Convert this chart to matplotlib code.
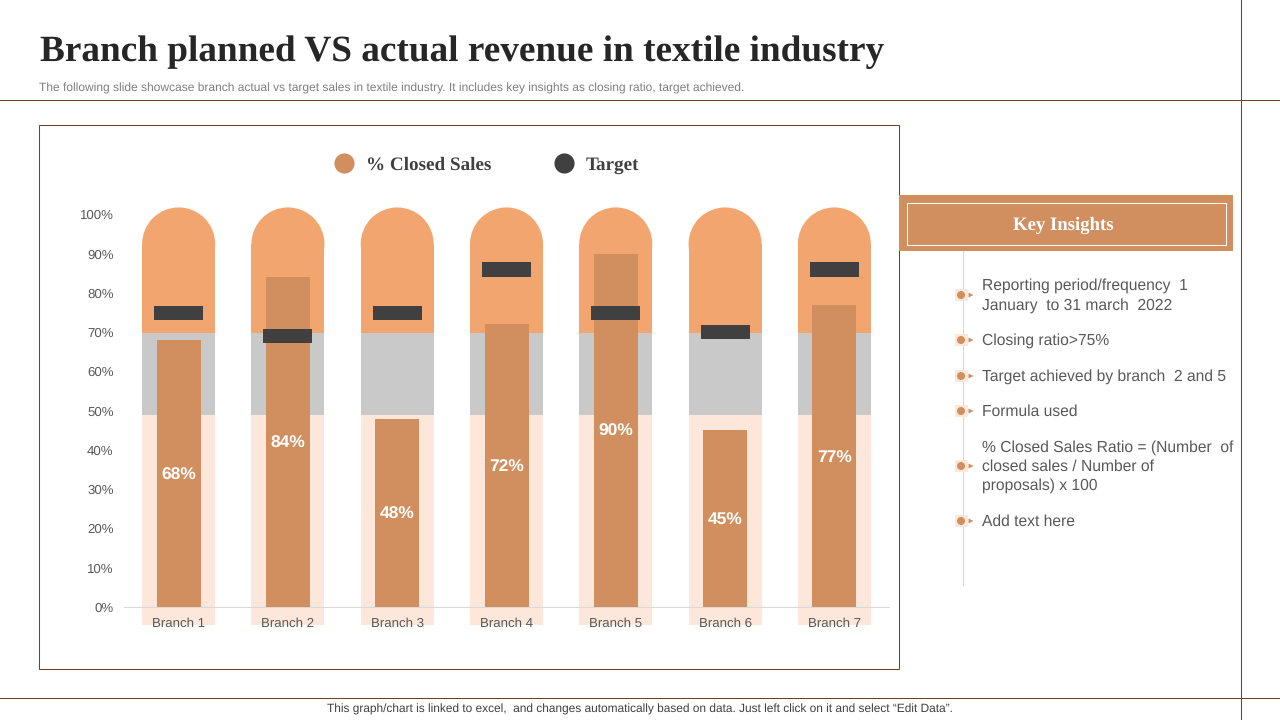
import matplotlib
matplotlib.use("Agg")
import matplotlib.pyplot as plt
from matplotlib.patches import Rectangle, Ellipse, Polygon
from matplotlib.lines import Line2D

plt.rcParams["text.hinting"] = "no_hinting"

branches = ["Branch 1", "Branch 2", "Branch 3", "Branch 4", "Branch 5", "Branch 6", "Branch 7"]
closed_sales = [68, 84, 48, 72, 90, 45, 77]
targets = [75, 69, 75, 86, 75, 70, 86]
band_low = 48.8
band_mid = 69.8
band_top = 101.8
band_floor = -4.6
y_ticks = list(range(0, 101, 10))
insights = [
    (295, "Reporting period/frequency  1\nJanuary  to 31 march  2022"),
    (340, "Closing ratio>75%"),
    (376, "Target achieved by branch  2 and 5"),
    (411, "Formula used"),
    (466, "% Closed Sales Ratio = (Number  of\nclosed sales / Number of\nproposals) x 100"),
    (521, "Add text here"),
]
title = "Branch planned VS actual revenue in textile industry"
subtitle = "The following slide showcase branch actual vs target sales in textile industry. It includes key insights as closing ratio, target achieved."
footer = "This graph/chart is linked to excel,  and changes automatically based on data. Just left click on it and select \u201cEdit Data\u201d."

C_BAR = "#D18F60"
C_TOP = "#F2A56F"
C_GREY = "#C9C9C9"
C_LOW = "#FCE7DA"
C_TARGET = "#404040"
C_RULE = "#6B4526"
SANS = "Liberation Sans"
SERIF = "Liberation Serif"
LW = 0.75

W, H = 1280, 720
fig = plt.figure(figsize=(W / 100, H / 100), dpi=100, facecolor="white")

# page layer in pixel coordinates
pg = fig.add_axes([0, 0, 1, 1], zorder=0)
pg.set_xlim(0, W)
pg.set_ylim(H, 0)
pg.axis("off")

pg.plot([0, W], [100, 100], color=C_RULE, lw=LW)
pg.plot([0, W], [698, 698], color=C_RULE, lw=LW)
pg.plot([1240.5, 1240.5], [0, H], color=C_RULE, lw=LW)
pg.add_patch(Rectangle((39, 125), 860, 544, fc="white", ec=C_RULE, lw=LW))

pg.text(39.5, 52.5, title, family=SERIF, weight="bold", fontsize=26.8, color="#262626", va="center", ha="left")
pg.text(39, 88.5, subtitle, family=SANS, fontsize=8.64, color="#7F7F7F", va="center", ha="left")
pg.text(639.5, 709.5, footer, family=SANS, fontsize=8.6, color="#404040", va="center", ha="center")

pg.add_patch(Rectangle((899, 195), 334, 56, fc=C_BAR, ec="none"))
pg.add_patch(Rectangle((907, 203), 319, 42, fc="none", ec="white", lw=LW))
pg.text(1063, 225.5, "Key Insights", family=SERIF, weight="bold", fontsize=13.5, color="white", va="center", ha="center")

pg.plot([963, 963], [251, 585], color="#EFCFB8", lw=LW)
for y, txt in insights:
    pg.add_patch(Rectangle((955, y - 6), 13, 12, fc=C_LOW, ec="none", zorder=3))
    pg.add_patch(Ellipse((961, y), 8, 8, fc=C_BAR, ec="none", zorder=4))
    pg.add_patch(Polygon([(968.5, y - 2.5), (968.5, y + 2.5), (973.5, y)], fc=C_BAR, ec="none", zorder=4))
    pg.text(982, y + 0.5, txt, family=SANS, fontsize=11.25, color="#595959", va="center", ha="left", linespacing=1.37)

# chart layer
PX_PER_UNIT = 3.925
ax_left, ax_right, ax_base = 124, 889, 607
step = (ax_right - ax_left) / 7
ax = fig.add_axes([ax_left / W, 1 - ax_base / H, (ax_right - ax_left) / W, 102 * PX_PER_UNIT / H], zorder=1)
ax.patch.set_alpha(0)
ax.set_xlim(-0.5, 6.5)
ax.set_ylim(0, 102)

band_w = 73 / step
cap_h = 36.5 / PX_PER_UNIT
for i in range(len(branches)):
    x0 = i - band_w / 2
    ax.add_patch(Rectangle((x0, band_floor), band_w, band_low - band_floor, fc=C_LOW, ec="none", clip_on=False, zorder=1))
    ax.add_patch(Rectangle((x0, band_low), band_w, band_mid - band_low, fc=C_GREY, ec="none", clip_on=False, zorder=1))
    ax.add_patch(Rectangle((x0, band_mid), band_w, band_top - cap_h - band_mid, fc=C_TOP, ec="none", clip_on=False, zorder=1))
    ax.add_patch(Ellipse((i, band_top - cap_h), band_w, 2 * cap_h, fc=C_TOP, ec="none", clip_on=False, zorder=1))

xs = range(len(branches))
ax.bar(xs, closed_sales, width=44 / step, color=C_BAR, zorder=2)
ax.bar(xs, [3.6] * len(targets), bottom=[t - 1.8 for t in targets], width=49 / step, color=C_TARGET, zorder=3)
for i, v in enumerate(closed_sales):
    ax.annotate(f"{v}%", (i, v / 2), xytext=(0, -1), textcoords="offset points", family=SANS, weight="bold",
                fontsize=12.5, color="white", ha="center", va="center", zorder=4)

for s in ("top", "left", "right"):
    ax.spines[s].set_visible(False)
ax.spines["bottom"].set_color("#D9D9D9")
ax.spines["bottom"].set_linewidth(LW)
ax.set_xticks(list(xs), branches, family=SANS, fontsize=9.5, color="#595959")
ax.set_yticks(y_ticks, [f"{t}%" for t in y_ticks], family=SANS, fontsize=9.5, color="#595959")
ax.tick_params(axis="both", length=0)
ax.tick_params(axis="x", pad=7.5)
ax.tick_params(axis="y", pad=7.5)

handles = [
    Line2D([], [], ls="none", marker="o", ms=14.5, mfc=C_BAR, mec="none"),
    Line2D([], [], ls="none", marker="o", ms=14.5, mfc=C_TARGET, mec="none"),
]
leg = ax.legend(handles, ["% Closed Sales", "Target"], ncol=2, frameon=False, loc="center",
                bbox_to_anchor=((486 - ax_left) / (ax_right - ax_left), (607 - 165.5) / (102 * PX_PER_UNIT)),
                prop={"family": SERIF, "weight": "bold", "size": 13.8},
                columnspacing=3.15, handletextpad=0.55, handlelength=1.2, borderaxespad=0, borderpad=0)
for t in leg.get_texts():
    t.set_color(C_TARGET)

fig.savefig("out.png", dpi=100)
